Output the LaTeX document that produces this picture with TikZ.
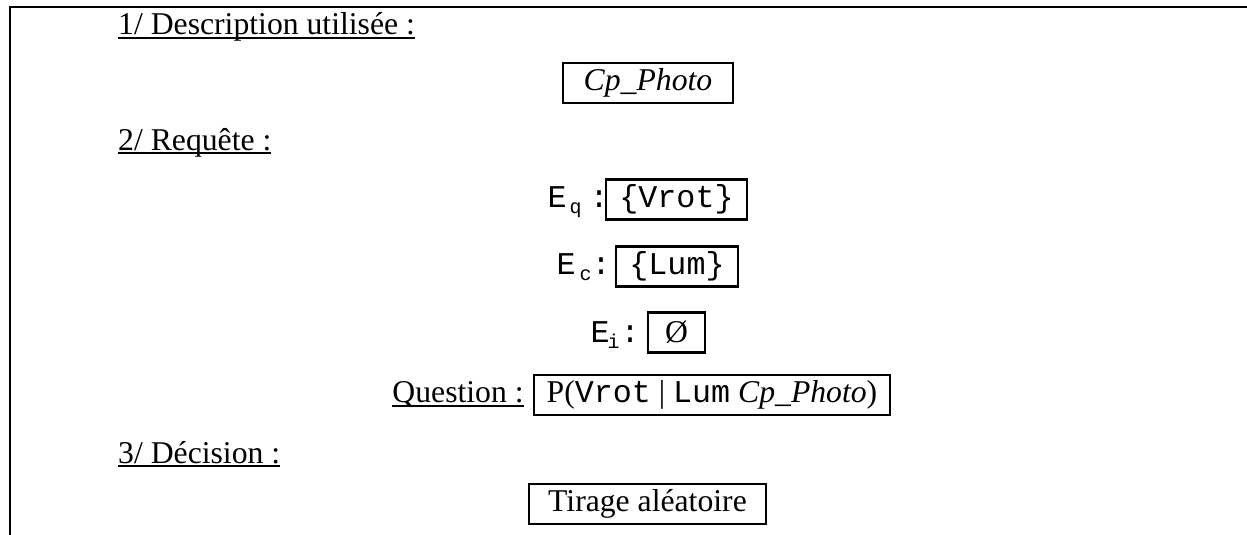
\documentclass[tikz,border=0pt]{standalone}
\usepackage{fontspec}
\setmainfont{Liberation Serif}
\setmonofont{Liberation Mono}
\newcommand\elab[3]{\texttt{E}\hspace{#2}\raisebox{-6pt}{\fontsize{20}{24}\selectfont\ttfamily #1}\hspace{#3}\texttt{:}}
\newsavebox\ulbox
\newcommand\myul[1]{\sbox\ulbox{#1}\rlap{\rule[-4pt]{\wd\ulbox}{1.8pt}}\usebox\ulbox}
\begin{document}
\begin{tikzpicture}[x=1pt,y=-1pt,
  every node/.style={font=\fontsize{31.7}{38}\selectfont},
  valbox/.style={draw, line width=2.3pt, inner sep=0pt, minimum height=40pt},
  heading/.style={anchor=base west, inner sep=0pt},
  elabel/.style={anchor=base east, inner sep=0pt},
  frame/.style={line width=2.3pt}]
\useasboundingbox (0,0) rectangle (1247,535);
\coordinate (tr) at (1247,7);
\coordinate (tl) at (10,7);
\coordinate (bl) at (10,535);
\draw[frame] (tr) -- (tl) -- (bl);

\node[heading] (h1) at (118,35) {\myul{1/ Description utilisée :}};
\node[valbox, minimum width=170pt] (cp) at (648,83) {\textit{Cp\_Photo}};

\node[heading] (h2) at (118,150) {\myul{2/ Requête :}};
\node[valbox, minimum width=141pt] (eq) at (676.5,199.5) {\texttt{\{Vrot\}}};
\node[elabel] (eql) at ([xshift=4pt]eq.base west) {\elab{q}{3pt}{8pt}};
\node[valbox, minimum width=122pt] (ec) at (677,266.5) {\texttt{\{Lum\}}};
\node[elabel] (ecl) at ([xshift=-4pt]ec.base west) {\elab{c}{4pt}{0pt}};
\node[valbox, minimum width=57pt] (ei) at (676.5,332.5) {Ø};
\node[elabel] (eil) at ([xshift=-7pt]ei.base west) {\elab{i}{-2pt}{1pt}};
\node[valbox, minimum width=356pt] (qb) at (712,395) {P(\texttt{Vrot} | \texttt{Lum} \textit{Cp\_Photo})};
\node[elabel] (ql) at ([xshift=-9pt]qb.base west) {\myul{Question :}};

\node[heading] (h3) at (118,463) {\myul{3/ Décision :}};
\node[valbox, minimum width=237pt] (tir) at (647.5,504) {Tirage aléatoire};
\end{tikzpicture}
\end{document}
